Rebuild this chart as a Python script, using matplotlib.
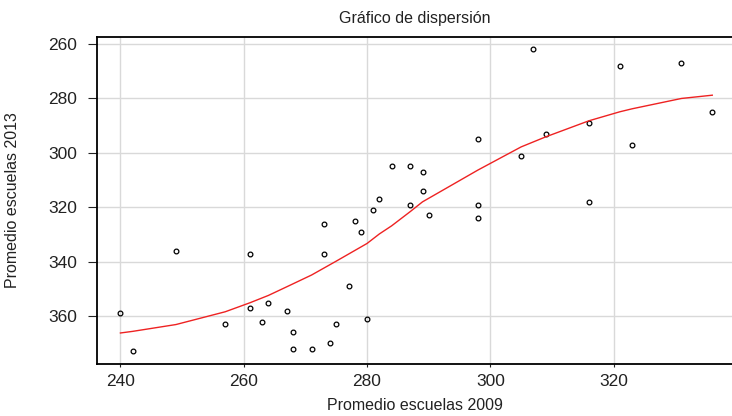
import numpy as np
import matplotlib
matplotlib.use("Agg")
from matplotlib import pyplot as plt

# School averages: 2009 (x) vs 2013 (y)
prom_2009 = [240, 242, 249, 257, 261, 261, 263, 264, 267, 268,
             268, 271, 273, 273, 274, 275, 277, 278, 279, 280,
             281, 282, 284, 287, 287, 289, 289, 290, 298, 298,
             298, 305, 307, 309, 316, 316, 321, 323, 331, 336]
prom_2013 = [359, 373, 336, 363, 337, 357, 362, 355, 358, 366,
             372, 372, 326, 337, 370, 363, 349, 325, 329, 361,
             321, 317, 305, 305, 319, 307, 314, 323, 295, 319,
             324, 301, 262, 293, 289, 318, 268, 297, 267, 285]

# smoothed curve
curva_x = [240, 242, 249, 257, 261, 264, 267, 271, 275, 280,
           282, 284, 287, 289, 298, 305, 309, 316, 321, 323, 331, 336]
curva_y = [366.2, 365.6, 363.1, 358.4, 355.1, 352.4, 349.2, 344.9, 339.8, 333.3,
           329.8, 326.8, 321.6, 318.0, 306.3, 297.8, 294.1, 288.2, 284.9, 283.8, 280.0, 278.8]

x_ticks = [240, 260, 280, 300, 320]
y_ticks = [260, 280, 300, 320, 340, 360]

plt.rcParams['font.family'] = ['Liberation Sans', 'DejaVu Sans']

fig = plt.figure(figsize=(7.32, 4.16), dpi=100)
ax = fig.add_axes([97 / 732, 1 - 364 / 416, 1 - 97 / 732, (364 - 36.7) / 416])

ax.grid(True, color='#d9d9d9', linewidth=1.0)
ax.set_axisbelow(True)

ax.plot(prom_2009, prom_2013, linestyle='none', marker='o', markersize=3.4,
        markerfacecolor='none', markeredgecolor='black', markeredgewidth=0.9)
ax.plot(curva_x, curva_y, color='#ee2222', linewidth=1.0)

ax.set_xlim(236.2, 339.2)
ax.set_ylim(377.6, 257.3)
ax.set_xticks(x_ticks)
ax.set_yticks(y_ticks)

ax.spines['right'].set_visible(False)
for s in ['left', 'bottom', 'top']:
    ax.spines[s].set_linewidth(1.3)
    ax.spines[s].set_color('black')

ax.tick_params(axis='y', length=6.5, width=0.8, pad=8, labelsize=12.5, colors='#222222')
ax.tick_params(axis='x', length=2.5, width=0.8, pad=5, labelsize=12.5, colors='#222222')

ax.set_title('Gráfico de dispersión', fontsize=11.5, pad=10, color='#222222')
ax.set_xlabel('Promedio escuelas 2009', fontsize=11.5, labelpad=6, color='#222222')
ax.set_ylabel('Promedio escuelas 2013', fontsize=11.5, labelpad=20, color='#222222')

fig.savefig('out.png', dpi=100)
